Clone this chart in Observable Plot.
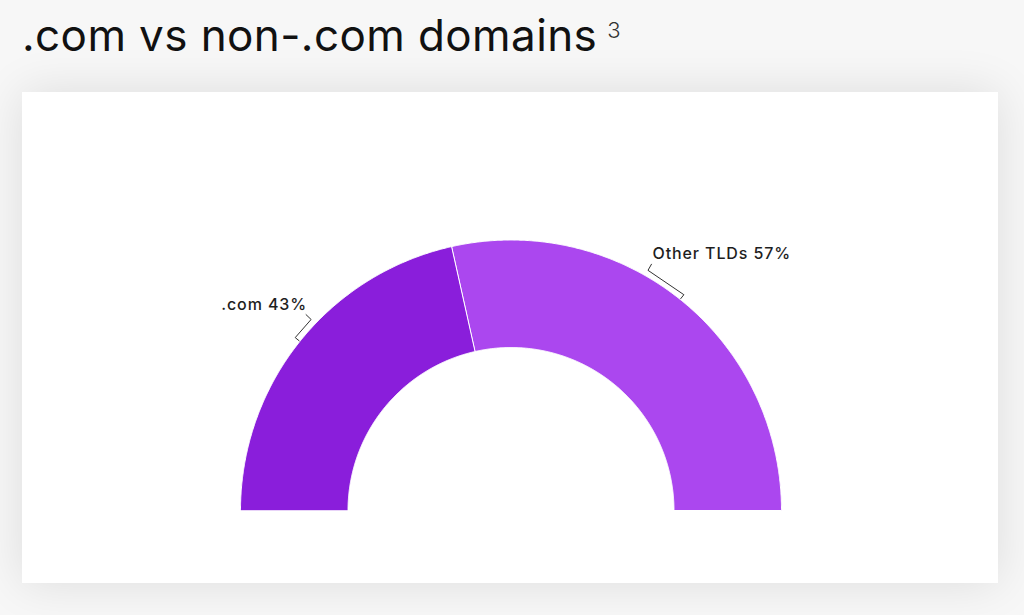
<!DOCTYPE html>
<html>
<head>
<meta charset="utf-8">
<script src="https://cdn.jsdelivr.net/npm/d3@7"></script>
<script src="https://cdn.jsdelivr.net/npm/@observablehq/plot@0.6"></script>
<style>
  html, body { margin: 0; padding: 0; }
  body { width: 1024px; height: 615px; background: #f7f7f7; overflow: hidden; position: relative; font-family: Inter, "Noto Sans", sans-serif; }
  #title { position: absolute; left: 22px; top: 8px; font-size: 44px; font-weight: 400; color: #111; letter-spacing: 0.4px; white-space: nowrap; }
  #title sup { font-size: 22px; font-weight: 300; color: #333; letter-spacing: 0; margin-left: 10px; position: relative; top: 3px; }
  #card { position: absolute; left: 22px; top: 92px; width: 976px; height: 491px; background: #fff; box-shadow: 0 0 45px rgba(0,0,0,0.11); }
  #card svg { display: block; }
  #card svg text { letter-spacing: 0.9px; }
</style>
</head>
<body>
<div id="title">.com vs non-.com domains<sup>3</sup></div>
<div id="card"></div>
<script>
// ---- data ----
const categories = [".com", "Other TLDs"];
const shares = [43, 57];
const colors = ["#8a1edb", "#ab47ef"];

// ---- layout (styling, not data) ----
const W = 976, H = 491;
const cx = 488.5, cy = 418;       // centre in svg pixels
const R_OUT = 270.5, R_IN = 163;
const labelShift = [-5, 9];       // degrees from slice middle where leader ends

const total = d3.sum(shares);
const rad = a => a * Math.PI / 180;
const polar = (a, r) => [r * Math.cos(rad(a)), r * Math.sin(rad(a))];

let cum = 0;
const slices = categories.map((c, i) => {
  const a0 = 180 - 180 * cum / total;
  cum += shares[i];
  const a1 = 180 - 180 * cum / total;
  return {name: c, value: shares[i], color: colors[i], a0, a1, mid: (a0 + a1) / 2};
});

const arcPts = [];
for (const s of slices) {
  const n = Math.max(2, Math.ceil(Math.abs(s.a0 - s.a1) / 0.25));
  for (let k = 0; k <= n; k++) {
    const a = s.a0 + (s.a1 - s.a0) * k / n;
    const [x, y] = polar(a, R_OUT);
    arcPts.push({name: s.name, x, y});
  }
  for (let k = n; k >= 0; k--) {
    const a = s.a0 + (s.a1 - s.a0) * k / n;
    const [x, y] = polar(a, R_IN);
    arcPts.push({name: s.name, x, y});
  }
}

const leaderPts = [];
const labels = [];
slices.forEach((s, i) => {
  const la = s.mid + labelShift[i];
  const pts = [polar(s.mid, R_OUT + 1), polar(s.mid, R_OUT + 6), polar(la, R_OUT + 6), polar(la, R_OUT + 13)];
  pts.forEach(([x, y]) => leaderPts.push({name: s.name, x, y}));
  const [lx, ly] = pts[3];
  labels.push({
    x: lx + 1, y: ly + 10,
    text: `${s.name} ${s.value}%`,
    anchor: lx < 0 ? "end" : "start"
  });
});

const textStyle = {fontSize: 16, fontWeight: 500, fill: "#1e1e1e", fontFamily: "Inter, sans-serif"};

const plot = Plot.plot({
  width: W, height: H,
  margin: 0,
  x: {domain: [-cx, W - cx], range: [0, W], axis: null},
  y: {domain: [cy - H, cy], range: [H, 0], axis: null},
  color: {domain: categories, range: colors},
  style: {background: "transparent", overflow: "visible"},
  marks: [
    Plot.line(arcPts, {x: "x", y: "y", z: "name", fill: "name", stroke: "#fff", strokeWidth: 1, curve: "linear-closed"}),
    Plot.line(leaderPts, {x: "x", y: "y", z: "name", stroke: "#333", strokeWidth: 1}),
    Plot.text(labels.filter(d => d.anchor === "end"), {x: "x", y: "y", text: "text", textAnchor: "end", lineAnchor: "middle", ...textStyle}),
    Plot.text(labels.filter(d => d.anchor === "start"), {x: "x", y: "y", text: "text", textAnchor: "start", lineAnchor: "middle", ...textStyle})
  ]
});
document.getElementById("card").appendChild(plot);
</script>
</body>
</html>
